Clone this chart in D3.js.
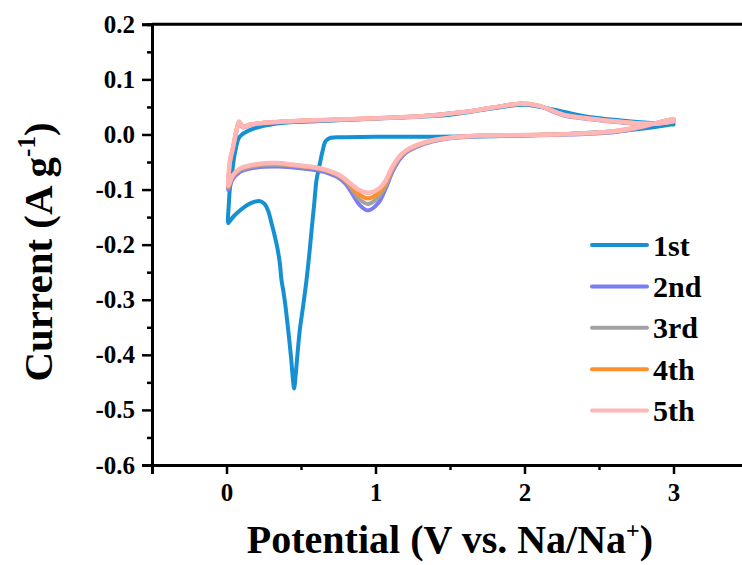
<!DOCTYPE html>
<html>
<head>
<meta charset="utf-8">
<script src="https://cdn.jsdelivr.net/npm/d3@7"></script>
<style>
  body { margin: 0; background: #fff; }
  svg { display: block; }
</style>
</head>
<body>
<svg id="chart" width="742" height="565"></svg>
<script>
// axis ticks
const xTicks = [0, 1, 2, 3];
const xMinorTicks = [-0.5, 0.5, 1.5, 2.5, 3.5];
const yTicks = [0.2, 0.1, 0.0, -0.1, -0.2, -0.3, -0.4, -0.5, -0.6];
const yMinorTicks = [0.15, 0.05, -0.05, -0.15, -0.25, -0.35, -0.45, -0.55];

const cycleNames = ["1st", "2nd", "3rd", "4th", "5th"];
const cycleColors = ["#1590d2", "#7b7bf2", "#a2a2a2", "#ff8f2a", "#ffb6b6"];

// 1st cycle: cathodic sweep from 3 V, then anodic sweep back
const cycle1V = [3.0, 2.8, 2.5, 2.2, 1.8, 1.4, 1.0, 0.8, 0.7, 0.665, 0.645, 0.625, 0.604, 0.588, 0.571, 0.555, 0.537, 0.515, 0.492, 0.476, 0.463, 0.454,
  0.446, 0.435, 0.422, 0.41, 0.395, 0.382, 0.369, 0.358, 0.34, 0.32, 0.302, 0.28, 0.255, 0.225, 0.19, 0.14, 0.09, 0.05, 0.025, 0.012,
  0.016, 0.024, 0.034, 0.056, 0.089, 0.156, 0.336, 0.6, 1.0, 1.5, 1.8, 2.0, 2.2, 2.4, 2.7, 3.0];
const cycle1I = [0.019, 0.011, 0.004, 0.000, -0.003, -0.004, -0.004, -0.005, -0.006, -0.012, -0.03, -0.055, -0.083, -0.128, -0.174, -0.219, -0.264, -0.31, -0.355, -0.40, -0.44, -0.461,
  -0.445, -0.41, -0.375, -0.345, -0.31, -0.285, -0.264, -0.234, -0.204, -0.18, -0.161, -0.139, -0.126, -0.121, -0.122, -0.128, -0.138, -0.148, -0.156, -0.161,
  -0.125, -0.095, -0.077, -0.034, -0.004, 0.008, 0.020, 0.024, 0.029, 0.036, 0.048, 0.054, 0.045, 0.033, 0.024, 0.018];

// cycles 2-5 share the same potential points
const laterV = [3.0, 2.9, 2.78, 2.6, 2.3, 2.0, 1.7, 1.5, 1.38, 1.28, 1.2, 1.16, 1.11, 1.07, 1.02, 0.95, 0.89, 0.85, 0.80, 0.76,
  0.68, 0.60, 0.45, 0.34, 0.20, 0.09, 0.04, 0.012,
  0.015, 0.025, 0.045, 0.065, 0.085, 0.11, 0.16, 0.30, 0.49, 0.94, 1.30, 1.50, 1.70, 1.84, 1.97, 2.10, 2.26, 2.40, 2.60, 2.78, 2.90, 3.0];
const cycle2I = [0.027, 0.021, 0.012, 0.004, 0.000, -0.002, -0.003, -0.007, -0.013, -0.022, -0.034, -0.046, -0.070, -0.097, -0.124, -0.138, -0.127, -0.110, -0.090, -0.080,
  -0.070, -0.065, -0.060, -0.058, -0.060, -0.068, -0.082, -0.101,
  -0.078, -0.050, -0.024, 0.004, 0.022, 0.013, 0.017, 0.021, 0.024, 0.028, 0.033, 0.038, 0.045, 0.051, 0.056, 0.051, 0.035, 0.029, 0.023, 0.019, 0.020, 0.024];
const cycle3I = [0.028, 0.022, 0.013, 0.005, 0.001, -0.001, -0.002, -0.006, -0.012, -0.021, -0.032, -0.043, -0.066, -0.092, -0.114, -0.126, -0.117, -0.103, -0.085, -0.077,
  -0.067, -0.062, -0.057, -0.055, -0.057, -0.065, -0.078, -0.097,
  -0.074, -0.047, -0.023, 0.005, 0.023, 0.014, 0.018, 0.022, 0.025, 0.029, 0.033, 0.038, 0.045, 0.051, 0.056, 0.052, 0.036, 0.030, 0.024, 0.020, 0.020, 0.024];
const cycle4I = [0.028, 0.022, 0.014, 0.006, 0.001, -0.001, -0.002, -0.006, -0.011, -0.020, -0.031, -0.041, -0.063, -0.088, -0.106, -0.116, -0.109, -0.098, -0.084, -0.075,
  -0.066, -0.061, -0.056, -0.053, -0.055, -0.063, -0.077, -0.095,
  -0.072, -0.046, -0.022, 0.005, 0.023, 0.014, 0.018, 0.022, 0.025, 0.029, 0.033, 0.038, 0.045, 0.051, 0.056, 0.052, 0.036, 0.030, 0.024, 0.020, 0.020, 0.024];
const cycle5I = [0.028, 0.022, 0.014, 0.006, 0.001, -0.001, -0.002, -0.006, -0.011, -0.019, -0.030, -0.040, -0.060, -0.083, -0.099, -0.106, -0.101, -0.093, -0.082, -0.074,
  -0.065, -0.060, -0.055, -0.052, -0.054, -0.062, -0.075, -0.093,
  -0.070, -0.045, -0.022, 0.005, 0.023, 0.014, 0.018, 0.022, 0.025, 0.029, 0.033, 0.038, 0.045, 0.051, 0.056, 0.052, 0.036, 0.030, 0.024, 0.020, 0.020, 0.024];

const SERIF = "'Liberation Serif', 'Times New Roman', serif";

const CvChart = {
    frame: { left: 152, right: 748, top: 24.3, bottom: 465 },
    x: null,
    y: null,
    svg: null,

    init() {
        this.svg = d3.select("#chart");
        this.x = d3.scaleLinear().domain([-0.5, 3.5]).range([this.frame.left, this.frame.right]);
        this.y = d3.scaleLinear().domain([-0.6, 0.2]).range([this.frame.bottom, this.frame.top]);
        this.drawCurves();
        this.drawAxes();
        this.drawTitles();
        this.drawLegend();
    },

    drawCurves() {
        const cycles = [
            cycle1V.map((v, i) => [v, cycle1I[i]]),
            laterV.map((v, i) => [v, cycle2I[i]]),
            laterV.map((v, i) => [v, cycle3I[i]]),
            laterV.map((v, i) => [v, cycle4I[i]]),
            laterV.map((v, i) => [v, cycle5I[i]])
        ];
        const line = d3.line()
            .x(d => this.x(d[0]))
            .y(d => this.y(d[1]))
            .curve(d3.curveCatmullRom.alpha(0.5));
        this.svg.append("g").attr("class", "curves")
            .selectAll("path")
            .data(cycles)
            .enter()
            .append("path")
            .attr("d", line)
            .attr("fill", "none")
            .attr("stroke", (d, i) => cycleColors[i])
            .attr("stroke-width", (d, i) => i === 4 ? 4.5 : 4)
            .attr("stroke-linejoin", "round")
            .attr("stroke-linecap", "round");
    },

    drawAxes() {
        const f = this.frame;
        const g = this.svg.append("g").attr("class", "axes");

        // frame: top and right edges
        g.append("path")
            .attr("d", `M${f.left},${f.top}H${f.right}V${f.bottom}`)
            .attr("fill", "none").attr("stroke", "#000").attr("stroke-width", 3);

        const xAxis = g.append("g").attr("transform", `translate(0,${f.bottom})`)
            .call(d3.axisBottom(this.x).tickValues(xTicks).tickSize(9).tickPadding(9).tickFormat(d3.format("d")));
        const xMinor = g.append("g").attr("transform", `translate(0,${f.bottom})`)
            .call(d3.axisBottom(this.x).tickValues(xMinorTicks).tickSize(5).tickFormat(""));
        const yAxis = g.append("g").attr("transform", `translate(${f.left},0)`)
            .call(d3.axisLeft(this.y).tickValues(yTicks).tickSize(10).tickPadding(7).tickFormat(d => d.toFixed(1)));
        const yMinor = g.append("g").attr("transform", `translate(${f.left},0)`)
            .call(d3.axisLeft(this.y).tickValues(yMinorTicks).tickSize(5).tickFormat(""));

        [xAxis, xMinor, yAxis, yMinor].forEach(a => {
            a.attr("font-family", SERIF).attr("font-size", 25).attr("font-weight", "bold");
            a.select(".domain").attr("stroke-width", 3).attr("stroke", "#000");
            a.selectAll(".tick line").attr("stroke-width", 2.5).attr("stroke", "#000");
            a.selectAll("text").attr("fill", "#000");
        });
    },

    drawTitles() {
        const xt = this.svg.append("text")
            .attr("x", 450).attr("y", 553)
            .attr("text-anchor", "middle")
            .attr("font-family", SERIF).attr("font-weight", "bold")
            .attr("font-size", 40);
        xt.append("tspan").text("Potential (V vs. Na/Na");
        xt.append("tspan").text("+").attr("font-size", 24).attr("dy", -15);
        xt.append("tspan").text(")").attr("dy", 15);

        const yt = this.svg.append("text")
            .attr("transform", "translate(52,252) rotate(-90)")
            .attr("text-anchor", "middle")
            .attr("font-family", SERIF).attr("font-weight", "bold")
            .attr("font-size", 41);
        yt.append("tspan").text("Current (A g");
        yt.append("tspan").text("-1").attr("font-size", 25).attr("dy", -17);
        yt.append("tspan").text(")").attr("dy", 17);
    },

    drawLegend() {
        const rows = this.svg.append("g").attr("class", "legend")
            .selectAll("g")
            .data(cycleNames)
            .enter()
            .append("g")
            .attr("transform", (d, i) => `translate(592,${245 + i * 41.4})`);
        rows.append("line")
            .attr("x1", 0).attr("x2", 55)
            .attr("stroke", (d, i) => cycleColors[i])
            .attr("stroke-width", 4)
            .attr("stroke-linecap", "round");
        rows.append("text")
            .attr("x", 61).attr("dy", "0.35em")
            .attr("font-family", SERIF).attr("font-weight", "bold")
            .attr("font-size", 30)
            .text(d => d);
    }
};

CvChart.init();
</script>
</body>
</html>
